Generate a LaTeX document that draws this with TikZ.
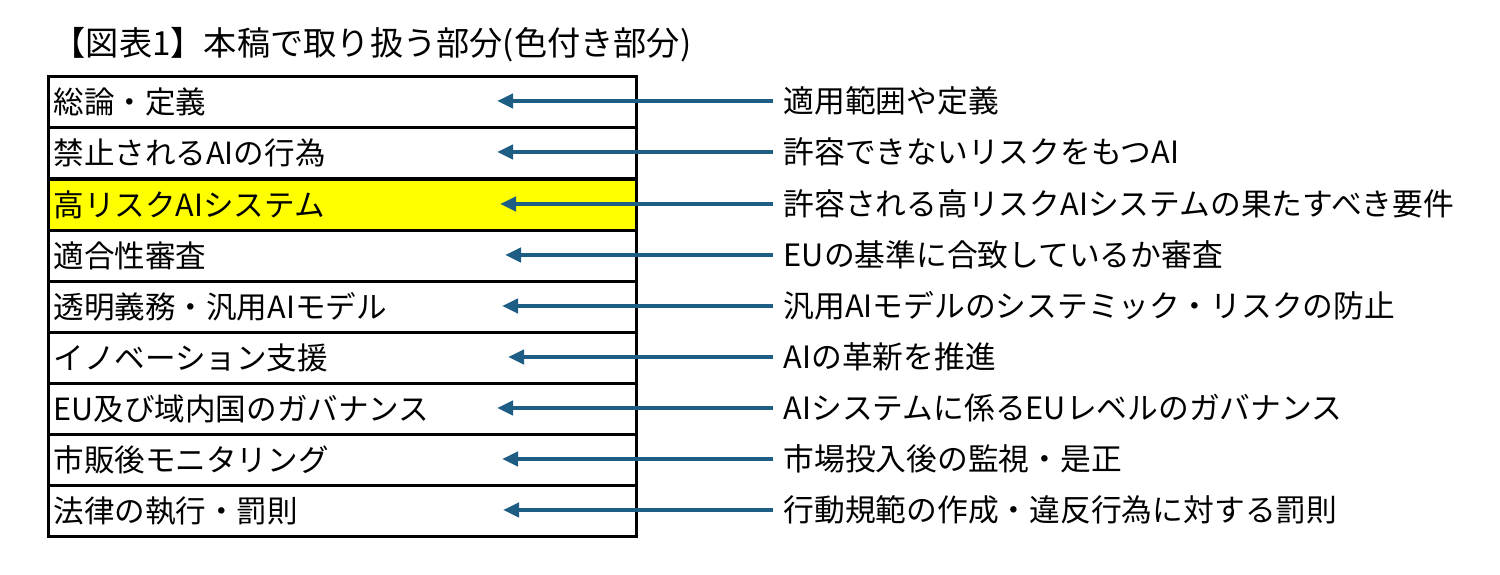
\documentclass[tikz,border=0pt]{standalone}
\usepackage{fontspec}
\setmainfont{Noto Sans CJK JP}
\usetikzlibrary{arrows.meta}

\definecolor{arrowblue}{HTML}{1F5E84}
\definecolor{markyellow}{HTML}{FFFF00}

\tikzset{
  rowbox/.style={draw=black, line width=0.3mm, minimum width=58.8mm, minimum height=5.1mm,
                 text width=57.8mm, inner xsep=0.5mm, inner ysep=0pt, align=left,
                 font=\fontsize{8.7pt}{9.5pt}\selectfont, anchor=north west},
  desc/.style={anchor=west, inner sep=0pt, font=\fontsize{8.75pt}{9.5pt}\selectfont},
  pointer/.style={arrowblue, line width=0.4mm, -{Triangle[length=1.6mm, width=1.4mm]}, shorten <=1mm}
}

\begin{document}
\begin{tikzpicture}[x=0.1mm, y=-0.1mm]
  \useasboundingbox (0,0) rectangle (1500,575);

  \node[anchor=west, inner sep=0pt, font=\fontsize{9.45pt}{10pt}\selectfont] (title) at (52,45)
       {【図表1】本稿で取り扱う部分(色付き部分)};

  % rows of the table, descriptions on the right
  \foreach \i/\top/\tip/\row/\txt in {
      1/75/497/総論・定義/適用範囲や定義,
      2/126/497/禁止されるAIの行為/許容できないリスクをもつAI,
      3/178/500/高リスクAIシステム/許容される高リスクAIシステムの果たすべき要件,
      4/229/505/適合性審査/EUの基準に合致しているか審査,
      5/280/502/透明義務・汎用AIモデル/汎用AIモデルのシステミック・リスクの防止,
      6/331/508/イノベーション支援/AIの革新を推進,
      7/382/497/EU及び域内国のガバナンス/AIシステムに係るEUレベルのガバナンス,
      8/433/502/市販後モニタリング/市場投入後の監視・是正,
      9/484/503/法律の執行・罰則/行動規範の作成・違反行為に対する罰則} {
    \ifnum\i=3
      \node[rowbox, fill=markyellow] (r\i) at (47,\top) {\row};
    \else
      \node[rowbox] (r\i) at (47,\top) {\row};
    \fi
    \node[desc] (d\i) at (783,\top+26) {\txt};
    \coordinate (a\i) at (\tip,\top+26);
  }

  \foreach \i in {1,...,9}
    \draw[pointer] (d\i.west) -- (a\i);
\end{tikzpicture}
\end{document}
